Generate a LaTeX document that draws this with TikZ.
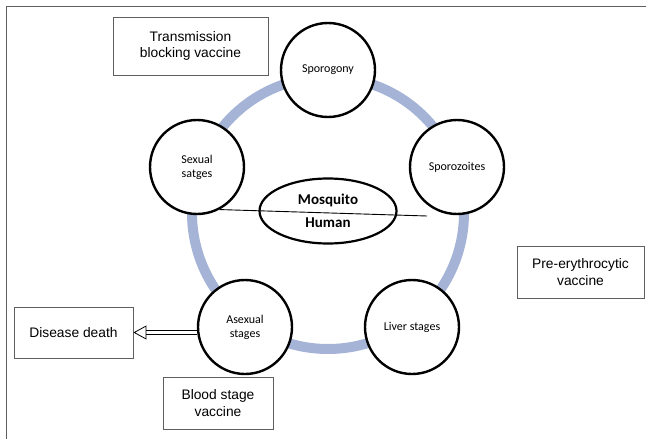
\documentclass[tikz,border=0pt]{standalone}
\usepackage{fontspec}
\setmainfont{Liberation Sans}
\newfontfamily\calfont{Carlito}
\usetikzlibrary{arrows.meta}
\usetikzlibrary{shapes.geometric}

\definecolor{ringblue}{RGB}{165,180,214}
\definecolor{boxgray}{RGB}{95,95,95}

\tikzset{
  stage/.style={circle,draw,fill=white,line width=2.4pt,minimum size=94pt,inner sep=0pt,
    align=center,font=\calfont\fontsize{12}{14}\selectfont},
  host/.style={ellipse,draw,fill=white,line width=2.2pt,minimum width=137pt,minimum height=65pt,
    inner sep=0pt,align=center,font=\calfont\bfseries\fontsize{15}{18}\selectfont},
  vaccine/.style={rectangle,draw=boxgray,line width=0.8pt,inner sep=0pt,align=center,
    font=\fontsize{13.8}{16.5}\selectfont},
  deatharrow/.style={double,double distance=3.5pt,line width=0.8pt,
    -{Triangle[open,length=13pt,width=14pt]}}
}

\begin{document}
\begin{tikzpicture}[x=1pt,y=-1pt]
\useasboundingbox (0,0) rectangle (646,439);
%frame
\draw[boxgray,line width=0.8pt] (6,439) -- (6,6) -- (646,6);
%cycle
\draw[ringblue,line width=10pt] (328,213) circle[radius=136pt];
\node[stage] (sporogony) at (328,70) {Sporogony};
\node[stage] (sporozoites) at (457,167) {Sporozoites};
\node[stage] (liver) at (412,327) {Liver stages};
\node[stage] (asexual) at (245,327) {Asexual\\stages};
\node[stage] (sexual) at (197,167) {Sexual\\satges};
%hosts
\node[host] (host) at (328,211) {Mosquito\\[5pt]Human};
\coordinate (hostline) at (427,216);
\draw[line width=0.9pt] (sexual.-62) -- (hostline);
%vaccines
\node[vaccine,minimum width=155pt,minimum height=58pt] (tbv) at (190.5,46) {Transmission\\blocking vaccine};
\node[vaccine,minimum width=127pt,minimum height=52pt] (pev) at (580.5,272) {Pre-erythrocytic\\vaccine};
\node[vaccine,minimum width=110pt,minimum height=52pt] (bsv) at (218,403) {Blood stage\\vaccine};
\node[vaccine,minimum width=119pt,minimum height=51pt] (death) at (73.5,332.5) {Disease death};
\draw[deatharrow] (asexual.west |- death.east) -- (death.east);
\end{tikzpicture}
\end{document}
